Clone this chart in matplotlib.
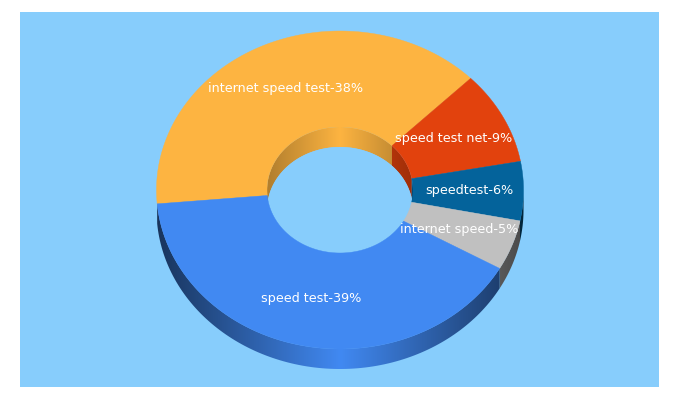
import numpy as np
import matplotlib
matplotlib.use("Agg")
import matplotlib.pyplot as plt
from matplotlib.colors import to_rgb
from matplotlib.patches import Rectangle, Polygon

labels = ["internet speed test", "speed test net", "speedtest", "internet speed", "speed test"]
shares = [39.0, 9.5, 6.0, 5.1, 40.4]
shown = [38, 9, 6, 5, 39]
colors = ["#fdb441", "#e2420d", "#04639b", "#c0c0c0", "#4189f2"]
label_pos = [(285.5, 88.7), (454, 138.7), (469, 190.7), (459, 229.7), (311.5, 298.7)]

BG = "#87cdfc"
CX, CY = 340, 190
RX, RY = 183.5, 159
HX, HY = 73, 63
DEPTH = 20
START = 185  # degrees, where the first slice starts, going clockwise


def arc(rx, ry, a0, a1, dy=0):
    t = np.radians(np.linspace(a0, a1, 120))
    return np.column_stack([CX + rx * np.cos(t), CY + dy - ry * np.sin(t)])


def draw_wall(rx, ry, a0, a1, color, strength, zorder):
    # gradient image clipped to the wall, brightest in the middle of the ring
    if a1 <= a0:
        return
    pts = np.vstack([arc(rx, ry, a0, a1), arc(rx, ry, a1, a0, DEPTH)])
    clip = Polygon(pts, transform=ax.transData, fc="none", ec="none")
    ax.add_patch(clip)
    u = np.linspace(-1, 1, 800)
    f = 1 - strength * np.abs(u)
    img = np.outer(f, to_rgb(color)).reshape(1, 800, 3)
    im = ax.imshow(img, extent=(CX - rx, CX + rx, CY + ry + DEPTH, CY - ry), aspect="auto",
                   interpolation="bilinear", zorder=zorder)
    im.set_clip_path(clip)


fig = plt.figure(figsize=(6.8, 4), dpi=100)
ax = fig.add_axes([0, 0, 1, 1])
ax.add_patch(Rectangle((20, 12), 639, 375, fc=BG, ec="none", zorder=0))

edges = START - np.cumsum([0] + shares) * 3.6

for i in range(len(shares)):
    a1, a0 = edges[i], edges[i + 1]
    # back half of the hole wall: angles between 0 and 180
    draw_wall(HX, HY, max(a0, 0), min(a1, 180), colors[i], 0.3, 2)
    # front half of the outer rim: angles between -180 and 0 (also 180 to 360)
    draw_wall(RX, RY, max(a0, -180), min(a1, 0), colors[i], 0.62, 3)
    draw_wall(RX, RY, max(a0, 180), min(a1, 360), colors[i], 0.62, 3)

# what is seen through the hole
ax.add_patch(Polygon(arc(HX, HY, 0, 360, DEPTH), fc=BG, ec="none", zorder=2.5))

# top faces
for i in range(len(shares)):
    a1, a0 = edges[i], edges[i + 1]
    pts = np.vstack([arc(RX, RY, a0, a1), arc(HX, HY, a1, a0)])
    ax.add_patch(Polygon(pts, fc=colors[i], ec=colors[i], lw=0.3, zorder=4))

for name, val, pos in zip(labels, shown, label_pos):
    ax.text(pos[0], pos[1], f"{name}-{val}%", color="white", fontsize=9.2,
            family="DejaVu Sans", ha="center", va="center", zorder=5)

ax.set_xlim(0, 680)
ax.set_ylim(400, 0)
ax.axis("off")

fig.savefig("out.png", dpi=100)
